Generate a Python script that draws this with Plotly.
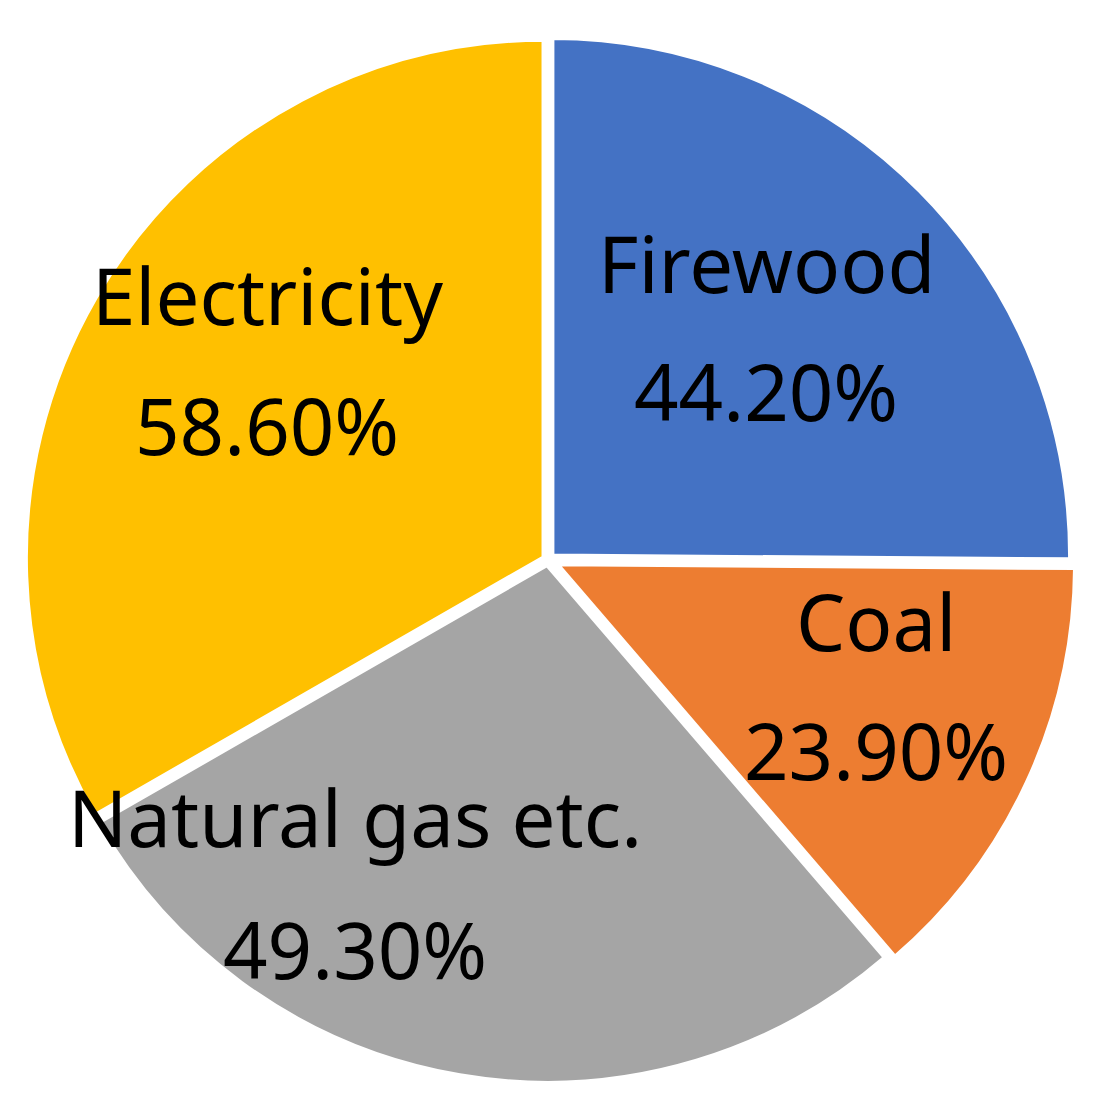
import plotly.graph_objects as go

labels = ["Firewood", "Coal", "Natural gas etc.", "Electricity"]
values = [44.20, 23.90, 49.30, 58.60]
colors = ["#4472C4", "#ED7D31", "#A5A5A5", "#FFC000"]

# label anchor points (paper coords) for the name line and the value line
label_x = [0.706, 0.809, 0.318, 0.235]
name_y = [0.781, 0.442, 0.257, 0.751]
value_y = [0.660, 0.320, 0.132, 0.628]

fig = go.Figure(
    go.Pie(
        labels=labels,
        values=values,
        textinfo="none",
        sort=False,
        direction="clockwise",
        rotation=0,
        pull=[0.012, 0.02, 0.01, 0.01],
        marker=dict(colors=colors, line=dict(color="white", width=4)),
        showlegend=False,
        hoverinfo="label+value",
    )
)

font = dict(family="Noto Sans", size=78, color="black")
for l, v, x, ny, vy in zip(labels, values, label_x, name_y, value_y):
    fig.add_annotation(x=x, y=ny, xref="paper", yref="paper", text=l,
                       showarrow=False, font=font, xanchor="center", yanchor="middle")
    fig.add_annotation(x=x, y=vy, xref="paper", yref="paper", text=f"{v:.2f}%",
                       showarrow=False, font=font, xanchor="center", yanchor="middle")

fig.update_layout(
    width=1096,
    height=1102,
    margin=dict(l=10, r=26, t=24, b=22),
    paper_bgcolor="white",
)

fig.write_html("out.html")
